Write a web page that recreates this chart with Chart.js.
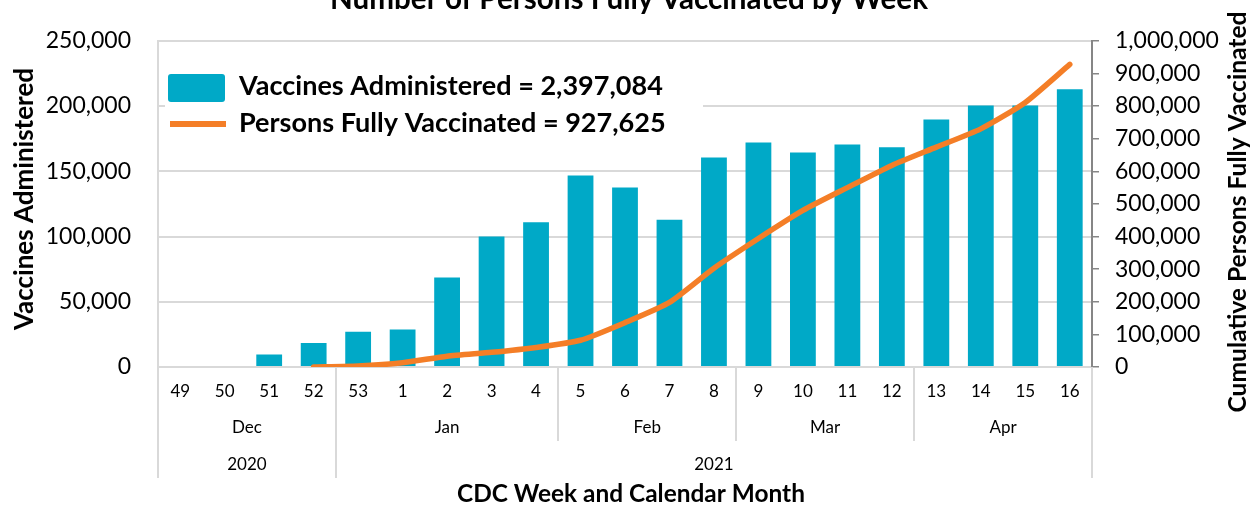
<!DOCTYPE html>
<html>
<head>
<meta charset="utf-8">
<title>Number of Persons Fully Vaccinated by Week</title>
<script src="https://cdn.jsdelivr.net/npm/chart.js@4.4.1/dist/chart.umd.min.js"></script>
<style>
  html, body { margin: 0; padding: 0; background: #fff; }
</style>
</head>
<body>
<canvas id="vaxChart" width="1259" height="506"></canvas>
<script>
// CDC week labels, month and year groups (number of weeks in each group)
var weeks = ['49', '50', '51', '52', '53', '1', '2', '3', '4', '5', '6', '7', '8', '9', '10', '11', '12', '13', '14', '15', '16'];
var months = ['Dec', 'Jan', 'Feb', 'Mar', 'Apr'];
var monthWeeks = [4, 5, 4, 4, 4];
var years = ['2020', '2021'];
var yearWeeks = [4, 17];

// weekly vaccines administered (left axis)
var vaccinesAdministered = [0, 0, 9500, 18300, 27000, 28800, 68600, 100000, 110900, 146800, 137600, 112900,
  160500, 172000, 164400, 170500, 168400, 189600, 200500, 200500, 212800];
// cumulative persons fully vaccinated (right axis)
var personsFullyVaccinated = [null, null, null, 0, 3000, 13000, 33000, 45000, 60000, 82000, 136000, 198000,
  303000, 394000, 480000, 550000, 618000, 674000, 730000, 811000, 927625];

var seriesNames = ['Vaccines Administered = 2,397,084', 'Persons Fully Vaccinated = 927,625'];
var chartTitle = 'Number of Persons Fully Vaccinated by Week';
var xTitle = 'CDC Week and Calendar Month';
var yTitle = 'Vaccines Administered';
var y1Title = 'Cumulative Persons Fully Vaccinated';

var leftTicks = [0, 50000, 100000, 150000, 200000, 250000];
var rightTicks = [0, 100000, 200000, 300000, 400000, 500000, 600000, 700000, 800000, 900000, 1000000];

var barColor = '#00A9C7';
var lineColor = '#F47E27';
var gridColor = '#D9D9D9';

Chart.defaults.font.family = 'Lato, "Open Sans", sans-serif';
Chart.defaults.color = '#000';

// size a bold font so the text spans the given width
function fitFont(ctx, text, width) {
  ctx.font = 'bold 20px Lato';
  var size = 20 * width / ctx.measureText(text).width;
  return 'bold ' + size.toFixed(2) + 'px Lato';
}

// group separators + month/year labels under the week ticks
function groupEdges(xs, counts) {
  var edges = [];
  var i = 0;
  for (let c of counts) {
    var a = i === 0 ? xs.left : (xs.getPixelForValue(i - 1) + xs.getPixelForValue(i)) / 2;
    i += c;
    var b = i >= weeks.length ? xs.right : (xs.getPixelForValue(i - 1) + xs.getPixelForValue(i)) / 2;
    edges.push([a, b]);
  }
  return edges;
}

var decorations = {
  id: 'decorations',
  beforeDatasetsDraw: function(chart) {
    var ctx = chart.ctx;
    var area = chart.chartArea;
    var xs = chart.scales.x;
    ctx.save();
    // separators
    ctx.strokeStyle = gridColor;
    ctx.lineWidth = 2;
    var mEdges = groupEdges(xs, monthWeeks);
    var yEdges = groupEdges(xs, yearWeeks);
    ctx.beginPath();
    for (let e of mEdges) {
      ctx.moveTo(Math.round(e[0]), area.bottom);
      ctx.lineTo(Math.round(e[0]), 441);
    }
    for (let e of yEdges) {
      ctx.moveTo(Math.round(e[0]), area.bottom);
      ctx.lineTo(Math.round(e[0]), 478);
    }
    ctx.moveTo(area.right, area.bottom);
    ctx.lineTo(area.right, 478);
    ctx.stroke();
    // month and year labels
    ctx.fillStyle = '#000';
    ctx.font = '17px Lato';
    ctx.textAlign = 'center';
    ctx.textBaseline = 'middle';
    mEdges.forEach(function(e, k) { ctx.fillText(months[k], (e[0] + e[1]) / 2, 428); });
    yEdges.forEach(function(e, k) { ctx.fillText(years[k], (e[0] + e[1]) / 2, 465); });

    // legend box
    ctx.fillStyle = '#fff';
    ctx.fillRect(165, 56, 538, 92);
    ctx.fillStyle = barColor;
    ctx.beginPath();
    ctx.roundRect(168, 74, 57, 28, 3);
    ctx.fill();
    ctx.strokeStyle = lineColor;
    ctx.lineWidth = 6;
    ctx.beginPath();
    ctx.moveTo(170, 124);
    ctx.lineTo(226, 124);
    ctx.stroke();
    ctx.fillStyle = '#000';
    ctx.textAlign = 'left';
    ctx.textBaseline = 'alphabetic';
    ctx.font = fitFont(ctx, seriesNames[0], 424);
    ctx.fillText(seriesNames[0], 239, 95);
    ctx.fillText(seriesNames[1], 239, 132);
    ctx.restore();
  },
  afterDraw: function(chart) {
    var ctx = chart.ctx;
    ctx.save();
    ctx.fillStyle = '#000';
    ctx.textAlign = 'center';
    ctx.textBaseline = 'alphabetic';
    ctx.font = fitFont(ctx, chartTitle, 598);
    ctx.fillText(chartTitle, 629, 9);
    ctx.font = fitFont(ctx, xTitle, 348);
    ctx.fillText(xTitle, 631, 502);
    // both axis titles read bottom to top
    ctx.font = fitFont(ctx, yTitle, 262);
    ctx.translate(33, 199);
    ctx.rotate(-Math.PI / 2);
    ctx.fillText(yTitle, 0, 0);
    ctx.restore();
    ctx.save();
    ctx.fillStyle = '#000';
    ctx.textAlign = 'center';
    ctx.font = fitFont(ctx, y1Title, 401);
    ctx.translate(1246, 212);
    ctx.rotate(-Math.PI / 2);
    ctx.fillText(y1Title, 0, 0);
    ctx.restore();
  }
};

var fmt = function(v) { return v.toLocaleString('en-US'); };

new Chart(document.getElementById('vaxChart'), {
  data: {
    labels: weeks,
    datasets: [{
      type: 'line',
      label: seriesNames[1],
      data: personsFullyVaccinated,
      yAxisID: 'y1',
      borderColor: lineColor,
      borderWidth: 5.5,
      borderCapStyle: 'round',
      borderJoinStyle: 'round',
      pointRadius: 0,
      tension: 0.2,
      order: 0
    }, {
      type: 'bar',
      label: seriesNames[0],
      data: vaccinesAdministered,
      yAxisID: 'y',
      backgroundColor: barColor,
      barPercentage: 0.58,
      categoryPercentage: 1,
      order: 1
    }]
  },
  options: {
    responsive: false,
    animation: false,
    layout: { padding: { top: 40, left: 0, right: 0, bottom: 0 } },
    plugins: {
      legend: { display: false },
      title: { display: false },
      tooltip: { enabled: false }
    },
    scales: {
      x: {
        type: 'category',
        offset: true,
        grid: { display: false, drawTicks: false },
        border: { display: false },
        ticks: { font: { size: 17 }, padding: 14, maxRotation: 0, autoSkip: false },
        afterFit: function(s) { s.height = 139; }
      },
      y: {
        position: 'left',
        min: 0,
        max: 250000,
        afterBuildTicks: function(s) { s.ticks = leftTicks.map(function(v) { return { value: v }; }); },
        ticks: { font: { size: 23 }, padding: 27, callback: fmt },
        grid: { color: gridColor, lineWidth: 2, drawTicks: false },
        border: { display: true, color: gridColor, width: 2 },
        afterFit: function(s) { s.width = 158; }
      },
      y1: {
        position: 'right',
        min: 0,
        max: 1000000,
        afterBuildTicks: function(s) { s.ticks = rightTicks.map(function(v) { return { value: v }; }); },
        ticks: { font: { size: 23 }, padding: 16, callback: fmt },
        grid: { drawOnChartArea: false, color: '#868686', lineWidth: 1.5, tickLength: 7 },
        border: { display: true, color: '#868686', width: 2 },
        afterFit: function(s) { s.width = 167; }
      }
    }
  },
  plugins: [decorations]
});
</script>
</body>
</html>
